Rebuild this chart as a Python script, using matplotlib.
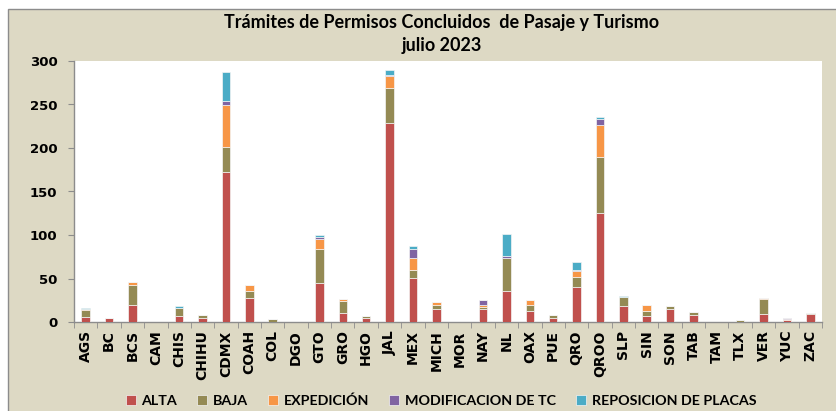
import numpy as np
import matplotlib
matplotlib.use("Agg")
import matplotlib.pyplot as plt
from matplotlib import font_manager
from matplotlib.patches import Rectangle

states = ["AGS", "BC", "BCS", "CAM", "CHIS", "CHIHU", "CDMX", "COAH", "COL", "DGO",
          "GTO", "GRO", "HGO", "JAL", "MEX", "MICH", "MOR", "NAY", "NL", "OAX",
          "PUE", "QRO", "QROO", "SLP", "SIN", "SON", "TAB", "TAM", "TLX", "VER",
          "YUC", "ZAC"]

alta       = [6, 5, 20, 0, 7, 5, 172, 28, 0, 0,
              45, 10, 5, 229, 51, 15, 0, 15, 36, 13,
              5, 40, 125, 18, 7, 15, 8, 0, 0, 9,
              2, 9]
baja       = [8, 0, 22, 0, 9, 3, 29, 8, 3, 0,
              39, 14, 2, 40, 9, 5, 0, 2, 38, 6,
              3, 12, 65, 11, 6, 3, 4, 0, 2, 18,
              0, 1]
expedicion = [1, 0, 4, 0, 0, 0, 48, 6, 0, 0,
              11, 3, 0, 14, 13, 3, 0, 2, 0, 6,
              0, 7, 37, 0, 6, 0, 0, 0, 0, 1,
              1, 0]
modificacion = [0, 0, 0, 0, 0, 0, 5, 0, 0, 0,
                3, 0, 0, 1, 11, 0, 0, 6, 2, 0,
                0, 1, 6, 0, 0, 0, 0, 0, 0, 0,
                2, 0]
reposicion = [1, 0, 0, 0, 2, 0, 33, 0, 0, 0,
              2, 0, 0, 6, 3, 0, 0, 0, 25, 0,
              0, 9, 3, 1, 0, 0, 0, 0, 0, 0,
              0, 0]

series_names = ["ALTA", "BAJA", "EXPEDICIÓN", "MODIFICACION DE TC", "REPOSICION DE PLACAS"]
series_vals = [alta, baja, expedicion, modificacion, reposicion]
series_colors = ["#C0504D", "#948A54", "#F79646", "#8064A2", "#4BACC6"]

title_text = "Trámites de Permisos Concluidos  de Pasaje y Turismo\njulio 2023"


def pick_family(candidates):
    names = {f.name for f in font_manager.fontManager.ttflist}
    return [c for c in candidates if c in names] + ["DejaVu Sans"]


narrow = pick_family(["Lato", "Liberation Sans Narrow"])
wide = ["DejaVu Sans"]

bg = "#DDD9C4"
fig = plt.figure(figsize=(8.37, 4.11), dpi=100, facecolor="white")

# chart frame (runs off the right and bottom edges)
frame = Rectangle((8 / 837, -0.05), 1.1, 1.05 - 9 / 411, transform=fig.transFigure,
                  facecolor=bg, edgecolor="#8c8c8c", linewidth=1.0, zorder=-10)
fig.patches.append(frame)

left, right = 74 / 837, 822 / 837
bottom, top = 1 - 322 / 411, 1 - 61 / 411
ax = fig.add_axes([left, bottom, right - left, top - bottom])
ax.set_facecolor("white")

x = np.arange(len(states))
base = np.zeros(len(states))
handles = []
for name, vals, col in zip(series_names, series_vals, series_colors):
    v = np.array(vals, dtype=float)
    b = ax.bar(x, v, width=0.36, bottom=base, color=col, edgecolor="#f4f4f4",
               linewidth=0.5, label=name, zorder=3)
    handles.append(b)
    base += v

ax.set_xlim(-0.5, len(states) - 0.5)
ax.set_ylim(0, 300)
ax.set_yticks(np.arange(0, 301, 50))
ax.set_xticks(x)
ax.set_xticklabels(states, rotation=90, fontsize=10, fontweight="bold",
                   family=wide)
ax.set_xticks(np.arange(-0.5, len(states), 1), minor=True)
ax.tick_params(axis="x", which="major", length=0, pad=6)
ax.tick_params(axis="x", which="minor", length=4, color="#8c8c8c")
ax.tick_params(axis="y", length=4, color="#8c8c8c", pad=8)
for lbl in ax.get_yticklabels():
    lbl.set_fontweight("bold")
    lbl.set_fontsize(9.5)
    lbl.set_family(wide)

for s in ["top", "right"]:
    ax.spines[s].set_visible(False)
for s in ["left", "bottom"]:
    ax.spines[s].set_color("#8c8c8c")
    ax.spines[s].set_linewidth(1.0)

fig.text(0.528, 1 - 34 / 411, title_text, ha="center", va="center",
         fontsize=13, fontweight="bold", family=narrow, linespacing=1.4)

leg = fig.legend(handles=handles, labels=series_names, loc="center",
                 bbox_to_anchor=(0.527, 1 - 401 / 411), ncol=5, frameon=False,
                 prop={"family": narrow, "weight": "bold", "size": 10.3},
                 handlelength=0.7, handleheight=0.7, handletextpad=0.4,
                 columnspacing=1.4)

fig.savefig("out.png", dpi=100, facecolor=fig.get_facecolor())
